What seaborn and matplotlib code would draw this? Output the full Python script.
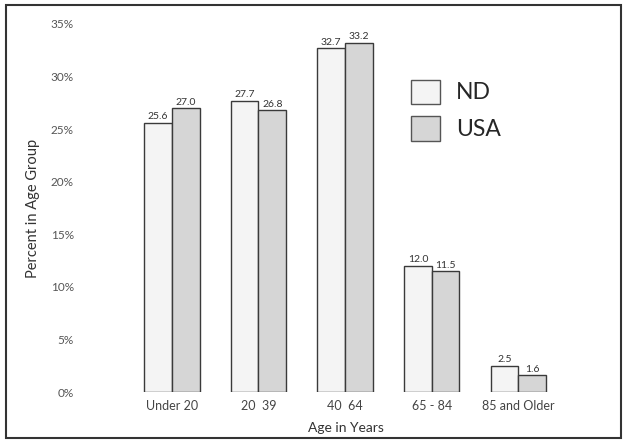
import seaborn as sns
import matplotlib.pyplot as plt
import matplotlib.patches as mpatches
import pandas as pd

# Age distribution, North Dakota vs USA
age_groups = ['Under 20', '20  39', '40  64', '65 - 84', '85 and Older']
nd_pct = [25.6, 27.7, 32.7, 12.0, 2.5]
usa_pct = [27.0, 26.8, 33.2, 11.5, 1.6]
series = ['ND', 'USA']
y_ticks = [0, 5, 10, 15, 20, 25, 30, 35]

df = pd.DataFrame({
    'Age': age_groups * 2,
    'Percent': nd_pct + usa_pct,
    'Group': [series[0]] * len(nd_pct) + [series[1]] * len(usa_pct),
})

sns.set_style("white")
plt.rcParams['font.family'] = ['Lato', 'DejaVu Sans']

fig = plt.figure(figsize=(6.27, 4.43), dpi=100)
ax = fig.add_axes([0.140, 0.115, 0.825, 0.831])

ax = sns.barplot(
    data=df, x='Age', y='Percent', hue='Group',
    palette=['#f4f4f4', '#d6d6d6'], width=0.64,
    edgecolor='#3a3a3a', linewidth=1.0, saturation=1, ax=ax,
)

# value labels
for cont in ax.containers:
    ax.bar_label(cont, fmt='%.1f', fontsize=7.5, color='#333333', padding=1)

ax.set_xlim(-0.97, 5.0)
ax.set_ylim(0, 35)
ax.set_yticks(y_ticks)
ax.set_yticklabels([f'{t}%' for t in y_ticks], fontsize=8.5, color='#555555')
ax.tick_params(axis='y', length=0, pad=10)
ax.tick_params(axis='x', length=0, pad=6, labelsize=9, labelcolor='#444444')
for s in ax.spines.values():
    s.set_visible(False)

ax.set_ylabel('Percent in Age Group', fontsize=10.5, color='#333333', labelpad=8)
ax.set_xlabel('Age in Years', fontsize=10, color='#333333', labelpad=7)

leg = ax.legend(
    loc='upper left', bbox_to_anchor=(0.585, 0.905), frameon=False,
    fontsize=16.5, handlelength=1.25, handleheight=1.25, handletextpad=0.7,
    labelspacing=0.55,
)
for h in leg.legend_handles:
    h.set_edgecolor('#555555')

# outer frame
fig.patches.append(mpatches.Rectangle(
    (0.010, 0.012), 0.980, 0.976, transform=fig.transFigure,
    fill=False, edgecolor='#333333', linewidth=1.5,
))

plt.savefig('out.png', dpi=100)
